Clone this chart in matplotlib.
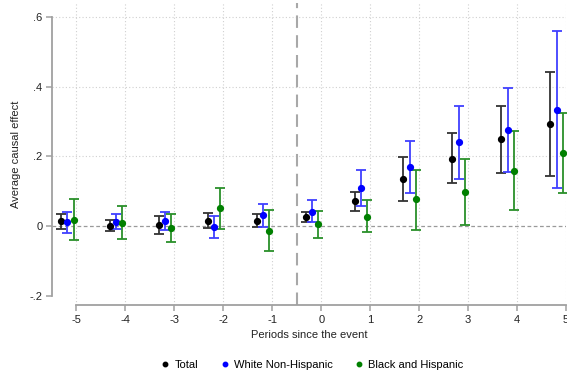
import numpy as np
import matplotlib.pyplot as plt
from matplotlib.lines import Line2D

plt.rcParams['font.family'] = ['Liberation Sans', 'DejaVu Sans']

periods = np.array([-5, -4, -3, -2, -1, 0, 1, 2, 3, 4, 5])

# point estimates and 95% bounds per group
total = [0.014, 0.001, 0.003, 0.015, 0.015, 0.026, 0.071, 0.135, 0.194, 0.249, 0.292]
total_lo = [-0.007, -0.015, -0.022, -0.004, -0.002, 0.011, 0.043, 0.073, 0.124, 0.153, 0.143]
total_hi = [0.036, 0.019, 0.028, 0.037, 0.034, 0.042, 0.098, 0.198, 0.266, 0.346, 0.442]

white = [0.011, 0.013, 0.014, -0.003, 0.032, 0.042, 0.109, 0.170, 0.240, 0.276, 0.333]
white_lo = [-0.019, -0.007, -0.012, -0.035, -0.002, 0.011, 0.057, 0.095, 0.135, 0.156, 0.109]
white_hi = [0.042, 0.035, 0.040, 0.030, 0.065, 0.075, 0.161, 0.245, 0.346, 0.397, 0.559]

black_hisp = [0.019, 0.010, -0.005, 0.051, -0.013, 0.005, 0.027, 0.077, 0.097, 0.159, 0.209]
black_hisp_lo = [-0.040, -0.038, -0.045, -0.007, -0.071, -0.033, -0.018, -0.010, 0.003, 0.046, 0.095]
black_hisp_hi = [0.079, 0.057, 0.035, 0.109, 0.045, 0.043, 0.075, 0.162, 0.193, 0.274, 0.326]

groups = [
    ('Total', total, total_lo, total_hi, 'black', '#333333', -0.32),
    ('White Non-Hispanic', white, white_lo, white_hi, 'blue', '#4040ff', -0.19),
    ('Black and Hispanic', black_hisp, black_hisp_lo, black_hisp_hi, 'green', '#2a902a', -0.06),
]

fig = plt.figure(figsize=(5.67, 3.75), dpi=100)
ax = fig.add_axes([52 / 567, 70 / 375, 514 / 567, 302 / 375])

# grid
for y in [0.2, 0.4, 0.6]:
    ax.axhline(y, color='#d0d0d0', lw=0.8, ls=(0, (1, 2)), zorder=0)
for x in periods:
    ax.axvline(x, color='#d0d0d0', lw=0.8, ls=(0, (1, 2)), zorder=0)
ax.axhline(0, color='#9a9a9a', lw=0.9, ls=(0, (3, 2)), zorder=1)
ax.axvline(-0.5, color='#a8a8a8', lw=1.5, ls=(0, (6, 3.5)), zorder=1)

handles = []
for name, est, lo, hi, mcol, bcol, off in groups:
    est = np.array(est)
    err = np.vstack([est - np.array(lo), np.array(hi) - est])
    ax.errorbar(periods + off, est, yerr=err, fmt='none', ecolor=bcol,
                elinewidth=1.3, capsize=3.3, capthick=1.3, zorder=3)
    ax.plot(periods + off, est, 'o', color=mcol, ms=4.2, zorder=4)
    handles.append(Line2D([], [], ls='none', marker='o', color=mcol, ms=3.2, label=name))

ax.set_xlim(-5.5, 5.0)
ax.set_ylim(-0.226, 0.64)
ax.set_xticks(periods)
ax.set_xticklabels([str(p) for p in periods])
ax.set_yticks([-0.2, 0, 0.2, 0.4, 0.6])
ax.set_yticklabels(['-.2', '0', '.2', '.4', '.6'])

for side in ['top', 'right']:
    ax.spines[side].set_visible(False)
ax.spines['left'].set_bounds(-0.2, 0.6)
ax.spines['bottom'].set_bounds(-5, 5)
for side in ['left', 'bottom']:
    ax.spines[side].set_color('#a0a0a0')
    ax.spines[side].set_linewidth(1.3)
ax.tick_params(direction='out', length=4, width=1.1, color='#a0a0a0',
               labelsize=8, labelcolor='#222222', pad=3)

ax.set_xlabel('Periods since the event', fontsize=8, color='#222222', labelpad=4)
ax.set_ylabel('Average causal effect', fontsize=8, color='#222222', labelpad=6)

fig.legend(handles=handles, loc='center', bbox_to_anchor=(311 / 567, 10 / 375),
           ncol=3, frameon=False, fontsize=8, handletextpad=0.2,
           columnspacing=1.8, handlelength=1.2)

fig.savefig('out.png', dpi=100)
